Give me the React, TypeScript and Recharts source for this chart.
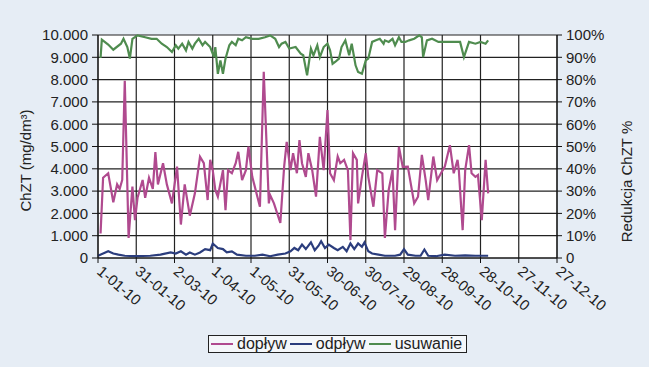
import { LineChart, Line, XAxis, YAxis, CartesianGrid, Label } from 'recharts'

const FONT = '"Liberation Sans", Arial, sans-serif'

// oś X: dni od 1-01-10
const dayTicks = [0, 30, 60, 90, 120, 150, 180, 210, 240, 270, 300, 330, 360]
const dayLabels = [
  '1-01-10', '31-01-10', '2-03-10', '1-04-10', '1-05-10', '31-05-10', '30-06-10',
  '30-07-10', '29-08-10', '28-09-10', '28-10-10', '27-11-10', '27-12-10',
]

const chztTicks = [0, 1000, 2000, 3000, 4000, 5000, 6000, 7000, 8000, 9000, 10000]
const chztLabels = ['0', '1.000', '2.000', '3.000', '4.000', '5.000', '6.000', '7.000', '8.000', '9.000', '10.000']

const pctTicks = [0, 10, 20, 30, 40, 50, 60, 70, 80, 90, 100]
const pctLabels = ['0', '10%', '20%', '30%', '40%', '50%', '60%', '70%', '80%', '90%', '100%']

// dopływ ChZT [mg/dm3]
const doplywDays = [
  2, 4, 8, 12, 15, 17, 19, 21, 24, 27, 29, 31, 35, 37, 40, 43, 45, 47, 51, 54, 58, 62, 65, 68, 72, 76,
  80, 83, 86, 88, 90, 92, 94, 98, 100, 102, 105, 108, 110, 113, 116, 118, 121, 125, 127, 130, 134, 135,
  138, 143, 146, 148, 151, 153, 156, 158, 160, 163, 165, 168, 171, 174, 177, 180, 182, 185, 188, 190,
  193, 196, 198, 200, 203, 204, 207, 210, 212, 216, 219, 223, 225, 228, 231, 233, 236, 239, 243, 248,
  251, 254, 257, 259, 263, 266, 269, 272, 276, 279, 282, 283, 286, 288, 291, 293, 296, 298, 301, 304, 306,
]
const doplywValues = [
  1100, 3600, 3800, 2500, 3300, 3100, 3500, 7950, 900, 3200, 1700, 2700, 3500, 2700, 3600, 3100, 4750, 3300,
  4250, 3300, 2450, 4100, 1500, 3300, 1900, 2900,
  4540, 4250, 2600, 4400, 3940, 3050, 2750, 3940, 2150, 3940, 3800, 4250, 4760, 3490, 3940, 4990, 3640,
  2750, 2300, 8350, 2450, 2820,
  2450, 1570, 4100, 5210, 3940, 4700, 3800, 5290, 4250, 3640, 4700, 3940, 2750, 5430, 3940, 6630, 3800,
  3490, 4550, 4250,
  4400, 3940, 800, 4700, 4400, 2450, 3640, 4700, 3640, 2300, 3940, 3800, 900, 3050, 3940, 1250, 4990,
  4090, 4100, 2450,
  2750, 4620, 3490, 2600, 4550, 3490, 3800, 4100, 5060, 3800, 4400, 3940, 1250, 3940, 5060, 3800, 3640,
  3720, 1700, 4400, 2900,
]

// odpływ ChZT [mg/dm3]
const odplywDays = [
  0, 4, 8, 12, 16, 21, 29, 41, 49, 57, 61, 65, 69, 72, 76, 80, 84, 88, 90, 94, 98, 101, 105, 109, 116,
  123, 129, 135, 141, 147, 151, 154, 157, 160, 163, 167, 170, 173, 175, 178, 181, 185, 188, 192, 195,
  198, 201, 204, 207, 209, 212, 215, 220, 225, 233, 237, 240, 243, 249, 253, 256, 259, 265, 272, 280,
  288, 296, 306,
]
const odplywValues = [
  100, 200, 300, 200, 150, 100, 80, 100, 150, 250, 200, 300, 150, 250, 150, 250, 400, 350, 650, 450, 400,
  250, 300, 150, 100, 100, 150, 80, 150, 200, 300, 450, 350, 600, 400, 700, 350, 550, 750, 450, 600, 450,
  350, 500, 300, 650, 400, 650, 500, 700, 300, 200, 150, 100, 100, 150, 400, 150, 100, 100, 380, 100, 80,
  150, 100, 120, 100, 100,
]

// usuwanie ChZT [%]
const usuwanieDays = [
  2, 3, 8, 12, 18, 20, 23, 25, 27, 31, 37, 42, 46, 50, 54, 58, 61, 63, 66, 69, 71, 74, 76, 79, 82, 84,
  88, 91, 92, 94, 96, 98, 100, 103, 105, 108, 110, 113, 116, 121, 126, 131, 135, 139, 142, 144, 147, 150,
  155, 159, 161, 164, 167, 169, 172, 174, 177, 180, 182, 184, 186, 189, 191, 194, 197, 199, 202, 204,
  207, 210, 212, 215, 218, 221, 224, 225, 228, 231, 233, 236, 238, 241, 244, 248, 252, 254, 255, 258,
  262, 267, 272, 280, 284, 287, 291, 296, 300, 304, 306,
]
const usuwanieValues = [
  89.7, 97.9, 95.7, 93.4, 96.1, 98.3, 94.6, 89.4, 98.3, 99.8, 99, 98.3, 98.3, 96.1, 94.6, 92.4, 95.4,
  93.9, 96.1, 93.1, 96.9, 93.9, 96.1, 98.3, 95.4, 96.9,
  94.6, 90.1, 94.6, 82.6, 88.6, 82.6, 89.4, 95.4, 96.9, 95.4, 98.3, 97.6, 99, 98.3, 98.3, 99, 99.8, 98.3,
  94.6, 96.1, 96.9, 93.9,
  94.6, 91.6, 90.9, 81.9, 93.9, 90.9, 95.4, 90.1, 94.6, 96.1, 93.1, 87.1, 87.9, 89.4, 94.6, 97.6, 90.9,
  96.1, 86.4, 83.4,
  82.6, 88.6, 89.4, 96.9, 97.6, 98.3, 96.1, 97.6, 96.9, 98.3, 95.4, 99, 96.9, 96.9, 97.6, 98.3, 99.8, 99,
  90.1, 97.6,
  98.3, 96.9, 96.9, 96.9, 96.9, 90.1, 96.9, 96.1, 96.9, 96.1, 97.6,
]

const doplywData = doplywDays.map((day, i) => ({ day, value: doplywValues[i] }))
const odplywData = odplywDays.map((day, i) => ({ day, value: odplywValues[i] }))
const usuwanieData = usuwanieDays.map((day, i) => ({ day, value: usuwanieValues[i] }))

const legendItems = [
  { name: 'dopływ', color: '#b04a8f' },
  { name: 'odpływ', color: '#2b3d7d' },
  { name: 'usuwanie', color: '#4f8c4f' },
]

function DateTick({ x, y, payload }: any) {
  const i = dayTicks.indexOf(payload.value)
  const tx = x - 2
  const ty = y + 8
  return (
    <text x={tx} y={ty} transform={`rotate(40 ${tx} ${ty})`} fontSize={15} fill="#222" fontFamily={FONT}>
      {dayLabels[i]}
    </text>
  )
}

export default function App() {
  const tickStyle = { fontSize: 15, fill: '#222', fontFamily: FONT }
  return (
    <div style={{ position: 'absolute', left: 0, top: 0, width: 649, height: 367, background: '#e6edf5' }}>
      <LineChart width={649} height={367} margin={{ top: 35, right: 0, left: 0, bottom: 0 }}>
        <CartesianGrid yAxisId="left" stroke="#222" strokeWidth={1.2} fill="#fff" />
        <XAxis
          type="number"
          dataKey="day"
          domain={[0, 360]}
          ticks={dayTicks}
          interval={0}
          height={109}
          tickSize={5}
          tick={<DateTick />}
          axisLine={{ stroke: '#111' }}
          tickLine={{ stroke: '#111' }}
        />
        <YAxis
          yAxisId="left"
          domain={[0, 10000]}
          ticks={chztTicks}
          interval={0}
          width={98}
          tickSize={6}
          tickMargin={4}
          tick={tickStyle}
          tickFormatter={(v: number) => chztLabels[chztTicks.indexOf(v)]}
          axisLine={{ stroke: '#111' }}
          tickLine={{ stroke: '#111' }}
        >
          <Label
            content={({ viewBox }: any) => {
              const cx = viewBox.x + 25
              const cy = viewBox.y + viewBox.height / 2 + 14
              return (
                <text x={cx} y={cy} transform={`rotate(-90 ${cx} ${cy})`} textAnchor="middle"
                  dominantBaseline="central" fontSize={15} fill="#222" fontFamily={FONT}>
                  ChZT (mg/dm³)
                </text>
              )
            }}
          />
        </YAxis>
        <YAxis
          yAxisId="right"
          orientation="right"
          domain={[0, 100]}
          ticks={pctTicks}
          interval={0}
          width={92}
          tickSize={5}
          tickMargin={4}
          tick={tickStyle}
          tickFormatter={(v: number) => pctLabels[pctTicks.indexOf(v)]}
          axisLine={{ stroke: '#111' }}
          tickLine={{ stroke: '#111' }}
        >
          <Label
            content={({ viewBox }: any) => {
              const cx = viewBox.x + 69
              const cy = viewBox.y + viewBox.height / 2 + 35
              return (
                <text x={cx} y={cy} transform={`rotate(-90 ${cx} ${cy})`} textAnchor="middle"
                  dominantBaseline="central" fontSize={15} fill="#222" fontFamily={FONT}>
                  Redukcja ChZT %
                </text>
              )
            }}
          />
        </YAxis>
        <Line yAxisId="left" data={doplywData} dataKey="value" name="dopływ" type="linear"
          stroke="#b04a8f" strokeWidth={2.2} dot={false} isAnimationActive={false} />
        <Line yAxisId="left" data={odplywData} dataKey="value" name="odpływ" type="linear"
          stroke="#2b3d7d" strokeWidth={2.2} dot={false} isAnimationActive={false} />
        <Line yAxisId="right" data={usuwanieData} dataKey="value" name="usuwanie" type="linear"
          stroke="#4f8c4f" strokeWidth={2.2} dot={false} isAnimationActive={false} />
      </LineChart>
      <div
        style={{
          position: 'absolute', left: 208, top: 335, width: 255, height: 16,
          border: '1px solid #222', background: '#f4f7fa', display: 'flex', alignItems: 'center',
          fontFamily: FONT, fontSize: 16, color: '#222', paddingLeft: 2, boxSizing: 'content-box',
        }}
      >
        {legendItems.map(item => (
          <div key={item.name} style={{ display: 'flex', alignItems: 'center', marginRight: 3 }}>
            <span style={{ display: 'inline-block', width: 22, height: 2, background: item.color, marginRight: 4 }} />
            <span style={{ lineHeight: '16px' }}>{item.name}</span>
          </div>
        ))}
      </div>
    </div>
  )
}
